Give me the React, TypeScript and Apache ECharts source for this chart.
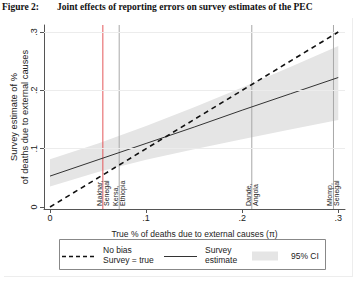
import React, { useEffect, useRef } from "react";
import * as echarts from "echarts";

// True share of deaths due to external causes (x) and model curves
const trueShare = [0, 0.05, 0.1, 0.15, 0.2, 0.25, 0.3];
const surveyEstimate = [0.053, 0.081, 0.109, 0.137, 0.166, 0.194, 0.222];
const ciUpper = [0.082, 0.109, 0.139, 0.171, 0.205, 0.24, 0.276];
const ciLower = [0.035, 0.06, 0.081, 0.099, 0.116, 0.133, 0.149];

// No-bias reference line (survey = true)
const noBiasX = [0, 0.3];
const noBiasY = [0, 0.3];

// Study sites marked on the x axis
const siteShare = [0.055, 0.072, 0.21, 0.295];
const siteNames = ["Niakhar,\nSenegal", "Kersa,\nEthiopia", "Dande,\nAngola", "Mlomp,\nSenegal"];
const highlightedSite = "Niakhar,\nSenegal";

// Axis ticks
const tickValues = [0, 0.1, 0.2, 0.3];
const gridValues = [0.1, 0.2, 0.3];

const X_MIN = -0.00625;
const X_MAX = 0.307;
const Y_MIN = -0.0034;
const Y_MAX = 0.312;

const SANS = '"Liberation Sans", Arial, Helvetica, sans-serif';
const SERIF = '"Liberation Serif", "Times New Roman", serif';

const fmtTick = (v: number) => {
  if (Math.abs(v) < 1e-9) return "0";
  return "." + Math.round(v * 10);
};

export default function App() {
  const ref = useRef<HTMLDivElement>(null);

  useEffect(() => {
    if (!ref.current) return;
    const chart = echarts.init(ref.current, undefined, { renderer: "svg" });

    const option: any = {
      animation: false,
      backgroundColor: "#ffffff",
      grid: {
        left: 44,
        right: 12,
        top: 25,
        bottom: 77,
        containLabel: false,
        outerBoundsMode: "none",
      },
      xAxis: {
        type: "value",
        min: X_MIN,
        max: X_MAX,
        name: "True % of deaths due to external causes (\u03c0)",
        nameLocation: "middle",
        nameGap: 20,
        nameTextStyle: { fontFamily: SANS, fontSize: 8.5, color: "#222" },
        axisLine: { show: true, onZero: false, lineStyle: { color: "#555", width: 1 } },
        axisTick: { show: true, customValues: tickValues, length: 4, lineStyle: { color: "#555" } },
        axisLabel: {
          customValues: tickValues,
          formatter: fmtTick,
          fontFamily: SANS,
          fontSize: 9,
          color: "#222",
          margin: 4,
        },
        splitLine: { show: false },
      },
      yAxis: {
        type: "value",
        min: Y_MIN,
        max: Y_MAX,
        name: "Survey estimate of %\nof deaths due to external causes",
        nameLocation: "middle",
        nameGap: 14,
        nameMoveOverlap: false,
        nameTextStyle: { fontFamily: SANS, fontSize: 9.3, color: "#222", lineHeight: 10.5 },
        axisLine: { show: true, onZero: false, lineStyle: { color: "#555", width: 1 } },
        axisTick: { show: true, customValues: tickValues, length: 4, lineStyle: { color: "#555" } },
        axisLabel: {
          customValues: tickValues,
          formatter: fmtTick,
          rotate: 90,
          fontFamily: SANS,
          fontSize: 9,
          color: "#222",
          margin: 6,
        },
        splitLine: { show: false },
      },
      series: [
        {
          // horizontal grid lines
          type: "line",
          data: [],
          silent: true,
          markLine: {
            silent: true,
            symbol: "none",
            label: { show: false },
            lineStyle: { color: "#ececec", type: "solid", width: 1 },
            data: gridValues.map((v) => ({ yAxis: v })),
          },
        },
        {
          // 95% confidence band
          type: "custom",
          silent: true,
          data: [[0, 0]],
          z: 2,
          renderItem: (params: any, api: any) => {
            const pts: number[][] = [];
            trueShare.forEach((x, i) => pts.push(api.coord([x, ciUpper[i]])));
            for (let i = trueShare.length - 1; i >= 0; i--) pts.push(api.coord([trueShare[i], ciLower[i]]));
            return {
              type: "polygon",
              shape: { points: pts },
              style: { fill: "#e5e5e5", stroke: "none" },
            };
          },
        },
        {
          // study site markers
          type: "custom",
          silent: true,
          z: 3,
          data: siteShare.map((x) => [x, 0]),
          renderItem: (params: any, api: any) => {
            const x = api.value(0);
            const name = siteNames[params.dataIndex];
            const bottom = api.coord([x, Y_MIN]);
            const top = api.coord([x, Y_MAX]);
            const base = api.coord([x, 0]);
            const isHighlight = name === highlightedSite;
            return {
              type: "group",
              children: [
                {
                  type: "line",
                  shape: { x1: bottom[0], y1: bottom[1], x2: top[0], y2: top[1] },
                  style: { stroke: isHighlight ? "#e4575a" : "#a8a8a8", lineWidth: 1 },
                },
                {
                  type: "text",
                  x: base[0],
                  y: base[1] - 1,
                  rotation: Math.PI / 2,
                  style: {
                    text: name,
                    fill: "#222",
                    fontFamily: SANS,
                    fontSize: 7,
                    lineHeight: 7,
                    align: "left",
                    verticalAlign: "middle",
                  },
                },
              ],
            };
          },
        },
        {
          name: "Survey estimate",
          type: "line",
          z: 4,
          symbol: "none",
          silent: true,
          data: trueShare.map((x, i) => [x, surveyEstimate[i]]),
          lineStyle: { color: "#333", width: 1 },
        },
        {
          name: "No bias",
          type: "line",
          z: 5,
          symbol: "none",
          silent: true,
          data: noBiasX.map((x, i) => [x, noBiasY[i]]),
          lineStyle: { color: "#111", width: 1.6, type: [5, 4] },
        },
      ],
      graphic: [
        // figure heading
        {
          type: "text",
          left: 2,
          top: 2,
          style: { text: "Figure 2:", font: `bold 9.5px ${SERIF}`, fill: "#111" },
        },
        {
          type: "text",
          left: 57,
          top: 2,
          style: {
            text: "Joint effects of reporting errors on survey estimates of the PEC",
            font: `bold 9.5px ${SERIF}`,
            fill: "#111",
          },
        },
        // outer frame edges
        { type: "line", shape: { x1: 352.5, y1: 18, x2: 352.5, y2: 277 }, style: { stroke: "#ededed", lineWidth: 1 } },
        { type: "line", shape: { x1: 4, y1: 276.5, x2: 352.5, y2: 276.5 }, style: { stroke: "#ededed", lineWidth: 1 } },
        // legend
        {
          type: "rect",
          shape: { x: 59.5, y: 239.5, width: 266, height: 30 },
          style: { fill: "#fff", stroke: "#888", lineWidth: 1 },
        },
        {
          type: "line",
          shape: { x1: 62, y1: 256.5, x2: 95, y2: 256.5 },
          style: { stroke: "#111", lineWidth: 1.5, lineDash: [4, 3] },
        },
        {
          type: "text",
          x: 103,
          y: 255,
          style: {
            text: "No bias\nSurvey = true",
            fontFamily: SANS,
            fontSize: 8.5,
            lineHeight: 9.5,
            fill: "#222",
            verticalAlign: "middle",
          },
        },
        {
          type: "line",
          shape: { x1: 164, y1: 256.5, x2: 197, y2: 256.5 },
          style: { stroke: "#333", lineWidth: 1 },
        },
        {
          type: "text",
          x: 205,
          y: 255,
          style: {
            text: "Survey\nestimate",
            fontFamily: SANS,
            fontSize: 8.5,
            lineHeight: 9.5,
            fill: "#222",
            verticalAlign: "middle",
          },
        },
        {
          type: "rect",
          shape: { x: 252, y: 251.5, width: 26, height: 9 },
          style: { fill: "#e5e5e5", stroke: "none" },
        },
        {
          type: "text",
          x: 291,
          y: 256,
          style: {
            text: "95% CI",
            fontFamily: SANS,
            fontSize: 8.5,
            fill: "#222",
            verticalAlign: "middle",
          },
        },
      ],
    };

    chart.setOption(option);
    return () => chart.dispose();
  }, []);

  return (
    <div
      ref={ref}
      style={{ position: "fixed", left: 0, top: 0, width: 357, height: 286 }}
    />
  );
}
